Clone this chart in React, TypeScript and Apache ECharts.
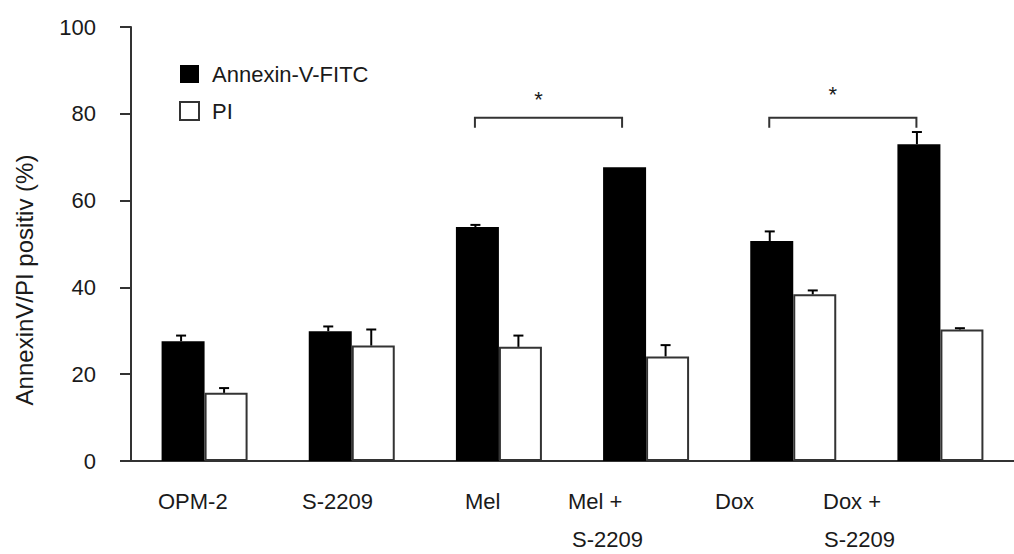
import React, { useEffect, useRef } from "react";
import * as echarts from "echarts";

// ---- data ----
const categories = ["OPM-2", "S-2209", "Mel", "Mel + S-2209", "Dox", "Dox + S-2209"];
const labelLine1 = ["OPM-2", "S-2209", "Mel", "Mel +", "Dox", "Dox +"];
const labelLine2 = ["", "", "", "S-2209", "", "S-2209"];
const annexinValues = [27.6, 29.9, 53.9, 67.7, 50.7, 73.0];
const annexinErrors = [1.3, 1.1, 0.5, 0, 2.2, 2.8];
const piValues = [15.7, 26.6, 26.3, 24.1, 38.4, 30.3];
const piErrors = [1.1, 3.7, 2.6, 2.6, 0.9, 0.3];
const yTicks = [0, 20, 40, 60, 80, 100];
// significance brackets: [fromCategory, toCategory, topValue, endValue, starValue]
const brackets = [
  [2, 3, 79.1, 76.8, 84.5],
  [4, 5, 79.1, 76.8, 85.6],
];
const yAxisTitle = "AnnexinV/PI positiv (%)";

// ---- layout ----
const W = 1014;
const H = 554;
const GRID = { left: 131, top: 27, width: 891, height: 434 };
const BAR_W = 43;
const FONT = "'Liberation Sans', Arial, sans-serif";
const TEXT_COLOR = "#1a1a1a";
const AXIS_COLOR = "#333";
const label1X = [158, 302, 465, 568, 715, 823];
const label2X = [0, 0, 0, 572, 0, 824];
const LABEL_Y1 = 501;
const LABEL_Y2 = 539;

function errorSeries(name: string, values: number[], errs: number[], offset: number) {
  return {
    name,
    type: "custom",
    clip: false,
    z: 5,
    encode: { x: 0, y: 1 },
    data: values.map((v, i) => [i, v, errs[i]]),
    renderItem: (params: any, api: any) => {
      const idx = api.value(0);
      const v = api.value(1);
      const e = api.value(2);
      if (!e) return null;
      const base = api.coord([idx, v]);
      const top = api.coord([idx, v + e]);
      const cx = base[0] + offset;
      const st = { stroke: "#000", lineWidth: 2 };
      return {
        type: "group",
        children: [
          { type: "line", shape: { x1: cx, y1: base[1], x2: cx, y2: top[1] }, style: st },
          { type: "line", shape: { x1: cx - 5, y1: top[1], x2: cx + 5, y2: top[1] }, style: st },
        ],
      };
    },
  };
}

export default function App() {
  const ref = useRef<HTMLDivElement>(null);

  useEffect(() => {
    if (!ref.current) return;
    const chart = echarts.init(ref.current, null, { renderer: "svg", width: W, height: H });

    const graphics: any[] = [
      {
        type: "text",
        x: 24,
        y: 280,
        rotation: Math.PI / 2,
        style: {
          text: yAxisTitle,
          font: `24px ${FONT}`,
          fill: TEXT_COLOR,
          align: "center",
          verticalAlign: "middle",
        },
      },
    ];
    labelLine1.forEach((t, i) => {
      graphics.push({
        type: "text",
        x: label1X[i],
        y: LABEL_Y1,
        style: { text: t, font: `22px ${FONT}`, fill: TEXT_COLOR, align: "left", verticalAlign: "middle" },
      });
      if (labelLine2[i]) {
        graphics.push({
          type: "text",
          x: label2X[i],
          y: LABEL_Y2,
          style: { text: labelLine2[i], font: `22px ${FONT}`, fill: TEXT_COLOR, align: "left", verticalAlign: "middle" },
        });
      }
    });

    chart.setOption({
      animation: false,
      backgroundColor: "#fff",
      grid: { ...GRID, containLabel: false },
      legend: {
        data: [
          { name: "Annexin-V-FITC", icon: "rect" },
          { name: "PI", icon: "rect" },
        ],
        orient: "vertical",
        left: 179,
        top: 63,
        padding: 0,
        itemWidth: 19,
        itemHeight: 18,
        itemGap: 15,
        textStyle: { fontSize: 22, fontFamily: FONT, color: TEXT_COLOR, padding: [0, 0, 0, 8], lineHeight: 18 },
      },
      xAxis: {
        type: "category",
        data: categories,
        axisLine: { show: true, lineStyle: { color: AXIS_COLOR, width: 2 } },
        axisTick: { show: false },
        axisLabel: { show: false },
        splitLine: { show: false },
      },
      yAxis: {
        type: "value",
        min: yTicks[0],
        max: yTicks[yTicks.length - 1],
        interval: yTicks[1] - yTicks[0],
        axisLine: { show: true, lineStyle: { color: AXIS_COLOR, width: 2 } },
        axisTick: { show: true, length: 11, lineStyle: { color: AXIS_COLOR, width: 2 } },
        axisLabel: { fontSize: 22, fontFamily: FONT, color: TEXT_COLOR, margin: 35 },
        splitLine: { show: false },
      },
      series: [
        {
          name: "Annexin-V-FITC",
          type: "bar",
          data: annexinValues,
          barWidth: BAR_W,
          barGap: "0%",
          itemStyle: { color: "#000" },
        },
        {
          name: "PI",
          type: "bar",
          data: piValues,
          barWidth: BAR_W,
          barGap: "0%",
          itemStyle: { color: "#fff", borderColor: AXIS_COLOR, borderWidth: 2 },
        },
        errorSeries("annexinErr", annexinValues, annexinErrors, -BAR_W / 2 - 2),
        errorSeries("piErr", piValues, piErrors, BAR_W / 2 - 2),
        {
          name: "significance",
          type: "custom",
          clip: false,
          z: 5,
          encode: { x: 0, y: 2 },
          data: brackets,
          renderItem: (params: any, api: any) => {
            const a = api.value(0);
            const b = api.value(1);
            const topV = api.value(2);
            const endV = api.value(3);
            const starV = api.value(4);
            const pa = api.coord([a, topV]);
            const pb = api.coord([b, topV]);
            const yEnd = api.coord([a, endV])[1];
            const yStar = api.coord([a, starV])[1];
            const off = -24;
            const xa = pa[0] + off;
            const xb = pb[0] + off;
            const st = { stroke: AXIS_COLOR, lineWidth: 2, fill: null };
            return {
              type: "group",
              children: [
                {
                  type: "polyline",
                  shape: { points: [[xa, yEnd], [xa, pa[1]], [xb, pb[1]], [xb, yEnd]] },
                  style: st,
                },
                {
                  type: "text",
                  x: (xa + xb) / 2 - 10,
                  y: yStar + 5,
                  style: {
                    text: "*",
                    font: `22px ${FONT}`,
                    fill: TEXT_COLOR,
                    align: "center",
                    verticalAlign: "middle",
                  },
                },
              ],
            };
          },
        },
      ],
      graphic: graphics,
    });

    return () => chart.dispose();
  }, []);

  return (
    <div
      ref={ref}
      style={{ position: "absolute", left: 0, top: 0, width: W, height: H, background: "#fff" }}
    />
  );
}
